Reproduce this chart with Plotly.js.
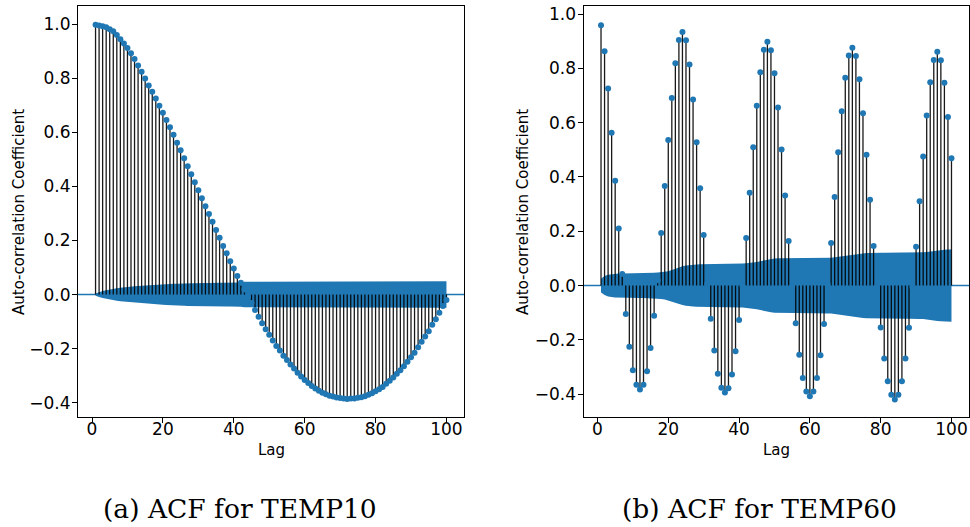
<!DOCTYPE html>
<html>
<head>
<meta charset="utf-8">
<script src="https://cdn.plot.ly/plotly-3.0.1.min.js"></script>
<style>
  html, body { margin: 0; padding: 0; background: #ffffff; }
  #chart { width: 970px; height: 527px; }
</style>
</head>
<body>
<div id="chart"></div>
<script>
// ---------- DATA ----------
const lags = [1,2,3,4,5,6,7,8,9,10,11,12,13,14,15,16,17,18,19,20,
  21,22,23,24,25,26,27,28,29,30,31,32,33,34,35,36,37,38,39,40,
  41,42,43,44,45,46,47,48,49,50,51,52,53,54,55,56,57,58,59,60,
  61,62,63,64,65,66,67,68,69,70,71,72,73,74,75,76,77,78,79,80,
  81,82,83,84,85,86,87,88,89,90,91,92,93,94,95,96,97,98,99,100];

// ACF of TEMP10 (lags 1..100)
const acfTemp10 = [
  0.998, 0.996, 0.993, 0.989, 0.982, 0.974, 0.960, 0.945, 0.929, 0.912,
  0.893, 0.872, 0.848, 0.824, 0.799, 0.774, 0.750, 0.725, 0.699, 0.673,
  0.646, 0.619, 0.591, 0.562, 0.534, 0.504, 0.475, 0.445, 0.416, 0.386,
  0.356, 0.327, 0.298, 0.269, 0.239, 0.210, 0.180, 0.153, 0.123, 0.096,
  0.069, 0.044, 0.019, -0.006, -0.031, -0.057, -0.082, -0.106, -0.128, -0.149,
  -0.170, -0.190, -0.207, -0.226, -0.242, -0.259, -0.274, -0.289, -0.303, -0.316,
  -0.327, -0.338, -0.348, -0.356, -0.363, -0.369, -0.374, -0.377, -0.381, -0.383,
  -0.385, -0.386, -0.385, -0.385, -0.382, -0.380, -0.376, -0.371, -0.365, -0.358,
  -0.350, -0.342, -0.330, -0.319, -0.307, -0.293, -0.280, -0.265, -0.249, -0.232,
  -0.215, -0.195, -0.175, -0.155, -0.136, -0.112, -0.091, -0.067, -0.042, -0.020
];
// half-width of the confidence band for TEMP10
const bandTemp10 = [
  0.004, 0.009, 0.013, 0.016, 0.019, 0.021, 0.023, 0.025, 0.027, 0.028,
  0.030, 0.031, 0.032, 0.033, 0.034, 0.035, 0.036, 0.037, 0.037, 0.038,
  0.039, 0.039, 0.040, 0.040, 0.041, 0.041, 0.042, 0.042, 0.042, 0.043,
  0.043, 0.043, 0.043, 0.044, 0.044, 0.044, 0.044, 0.044, 0.044, 0.044,
  0.044, 0.045, 0.047, 0.047, 0.047, 0.047, 0.047, 0.047, 0.047, 0.047,
  0.047, 0.047, 0.047, 0.047, 0.048, 0.048, 0.048, 0.048, 0.048, 0.048,
  0.048, 0.048, 0.048, 0.048, 0.048, 0.048, 0.048, 0.048, 0.048, 0.048,
  0.048, 0.048, 0.048, 0.049, 0.049, 0.049, 0.049, 0.049, 0.049, 0.049,
  0.049, 0.049, 0.049, 0.049, 0.049, 0.049, 0.049, 0.049, 0.049, 0.049,
  0.049, 0.049, 0.049, 0.049, 0.049, 0.049, 0.049, 0.049, 0.049, 0.049
];

// ACF of TEMP60 (lags 1..100)
const acfTemp60 = [
  0.959, 0.863, 0.726, 0.563, 0.386, 0.210, 0.043, -0.105, -0.225, -0.312,
  -0.365, -0.383, -0.365, -0.315, -0.230, -0.111, 0.020, 0.194, 0.367, 0.536,
  0.691, 0.819, 0.904, 0.934, 0.903, 0.814, 0.685, 0.528, 0.358, 0.186,
  0.006, -0.122, -0.239, -0.325, -0.376, -0.394, -0.378, -0.327, -0.242, -0.127,
  -0.002, 0.175, 0.342, 0.509, 0.662, 0.786, 0.868, 0.898, 0.867, 0.782,
  0.656, 0.501, 0.332, 0.164, -0.003, -0.139, -0.255, -0.340, -0.390, -0.407,
  -0.390, -0.340, -0.256, -0.141, 0.005, 0.157, 0.326, 0.491, 0.642, 0.765,
  0.847, 0.876, 0.845, 0.760, 0.635, 0.482, 0.316, 0.146, -0.004, -0.154,
  -0.268, -0.352, -0.402, -0.419, -0.402, -0.352, -0.268, -0.155, -0.006, 0.143,
  0.311, 0.475, 0.626, 0.749, 0.831, 0.861, 0.830, 0.747, 0.621, 0.469
];
// half-width of the confidence band for TEMP60
const bandTemp60 = [
  0.025, 0.035, 0.040, 0.042, 0.044, 0.045, 0.045, 0.045, 0.045, 0.046,
  0.046, 0.046, 0.046, 0.046, 0.047, 0.047, 0.048, 0.049, 0.051, 0.053,
  0.057, 0.062, 0.067, 0.071, 0.074, 0.076, 0.077, 0.078, 0.079, 0.079,
  0.079, 0.079, 0.080, 0.080, 0.080, 0.080, 0.080, 0.080, 0.080, 0.081,
  0.081, 0.082, 0.083, 0.085, 0.087, 0.090, 0.093, 0.096, 0.098, 0.100,
  0.101, 0.101, 0.102, 0.102, 0.102, 0.102, 0.102, 0.102, 0.102, 0.102,
  0.102, 0.102, 0.102, 0.102, 0.103, 0.103, 0.104, 0.106, 0.108, 0.110,
  0.112, 0.114, 0.116, 0.118, 0.119, 0.120, 0.120, 0.121, 0.121, 0.121,
  0.121, 0.121, 0.121, 0.121, 0.122, 0.122, 0.122, 0.122, 0.122, 0.122,
  0.123, 0.123, 0.124, 0.126, 0.128, 0.130, 0.131, 0.132, 0.133, 0.133
];

const xTickVals = [0, 20, 40, 60, 80, 100];
const yTickVals = [-0.4, -0.2, 0.0, 0.2, 0.4, 0.6, 0.8, 1.0];
const yTickText = ['\u22120.4', '\u22120.2', '0.0', '0.2', '0.4', '0.6', '0.8', '1.0'];
const captions = ['(a) ACF for TEMP10', '(b) ACF for TEMP60'];
const yTitle = 'Auto-correlation Coefficient';
const xTitle = 'Lag';

// ---------- BUILD ----------
const BLUE = '#1f77b4';
const W = 970, H = 527;

function stemXY(xs, ys) {
  const sx = [], sy = [];
  for (let i = 0; i < xs.length; i++) {
    sx.push(xs[i], xs[i], null);
    sy.push(0, ys[i], null);
  }
  return {sx, sy};
}
function bandXY(xs, hw) {
  const bx = xs.concat(xs.slice().reverse());
  const by = hw.map(v => v).concat(hw.slice().reverse().map(v => -v));
  return {bx, by};
}

function panelTraces(acf, band, xa, ya) {
  const b = bandXY(lags, band);
  const s = stemXY(lags, acf);
  return [
    {x: b.bx, y: b.by, xaxis: xa, yaxis: ya, type: 'scatter', mode: 'lines',
     fill: 'toself', fillcolor: BLUE, line: {width: 0, color: BLUE},
     hoverinfo: 'skip', showlegend: false},
    {x: s.sx, y: s.sy, xaxis: xa, yaxis: ya, type: 'scatter', mode: 'lines',
     line: {color: 'rgba(0,0,0,0.9)', width: 1.3}, hoverinfo: 'skip', showlegend: false},
    {x: lags, y: acf, xaxis: xa, yaxis: ya, type: 'scatter', mode: 'markers',
     marker: {color: BLUE, size: 6}, showlegend: false}
  ];
}

const data = panelTraces(acfTemp10, bandTemp10, 'x', 'y')
  .concat(panelTraces(acfTemp60, bandTemp60, 'x2', 'y2'));

const tickFont = {family: 'DejaVu Sans', size: 17, color: '#000'};
function xAxis(domain, anchor) {
  return {domain: domain, anchor: anchor, range: [-3.95, 104.95],
    tickvals: xTickVals, ticks: 'outside', ticklen: 5, tickwidth: 1, tickcolor: '#000',
    ticklabelstandoff: -8,
    showline: true, mirror: true, linecolor: '#000', linewidth: 1,
    showgrid: false, zeroline: false, tickfont: tickFont};
}
function yAxis(domain, anchor, range) {
  return {domain: domain, anchor: anchor, range: range,
    tickvals: yTickVals, ticktext: yTickText, ticks: 'outside', ticklen: 5, tickwidth: 1,
    ticklabelstandoff: -2,
    tickcolor: '#000', showline: true, mirror: true, linecolor: '#000', linewidth: 1,
    showgrid: false, zeroline: false, tickfont: tickFont};
}

const px = v => v / W;
const py = v => 1 - v / H;

const axFont = {family: 'DejaVu Sans', size: 15, color: '#000'};
const capFont = {family: 'DejaVu Serif', size: 26.5, color: '#000'};

const layout = {
  width: W, height: H,
  margin: {l: 0, r: 0, t: 0, b: 0},
  paper_bgcolor: '#fff', plot_bgcolor: '#fff',
  showlegend: false,
  xaxis: xAxis([px(78), px(464)], 'y'),
  yaxis: yAxis([py(417), py(6)], 'x', [-0.453, 1.0677]),
  xaxis2: xAxis([px(583.5), px(969)], 'y2'),
  yaxis2: yAxis([py(416.7), py(5.7)], 'x2', [-0.4827, 1.0306]),
  shapes: [
    {type: 'line', xref: 'x domain', yref: 'y', x0: 0, x1: 1, y0: 0, y1: 0,
     line: {color: BLUE, width: 1.5}, layer: 'below'},
    {type: 'line', xref: 'x2 domain', yref: 'y2', x0: 0, x1: 1, y0: 0, y1: 0,
     line: {color: BLUE, width: 1.5}, layer: 'below'}
  ],
  annotations: [
    {text: yTitle, xref: 'paper', yref: 'paper', x: px(19), y: py(212), textangle: -90,
     showarrow: false, font: axFont, xanchor: 'center', yanchor: 'middle'},
    {text: yTitle, xref: 'paper', yref: 'paper', x: px(523), y: py(212), textangle: -90,
     showarrow: false, font: axFont, xanchor: 'center', yanchor: 'middle'},
    {text: xTitle, xref: 'paper', yref: 'paper', x: px(271), y: py(450),
     showarrow: false, font: axFont, xanchor: 'center', yanchor: 'middle'},
    {text: xTitle, xref: 'paper', yref: 'paper', x: px(776), y: py(450),
     showarrow: false, font: axFont, xanchor: 'center', yanchor: 'middle'},
    {text: captions[0], xref: 'paper', yref: 'paper', x: px(239.5), y: py(508),
     showarrow: false, font: capFont, xanchor: 'center', yanchor: 'middle'},
    {text: captions[1], xref: 'paper', yref: 'paper', x: px(759), y: py(508),
     showarrow: false, font: capFont, xanchor: 'center', yanchor: 'middle'}
  ]
};

Plotly.newPlot('chart', data, layout, {staticPlot: true, displayModeBar: false});
</script>
</body>
</html>
